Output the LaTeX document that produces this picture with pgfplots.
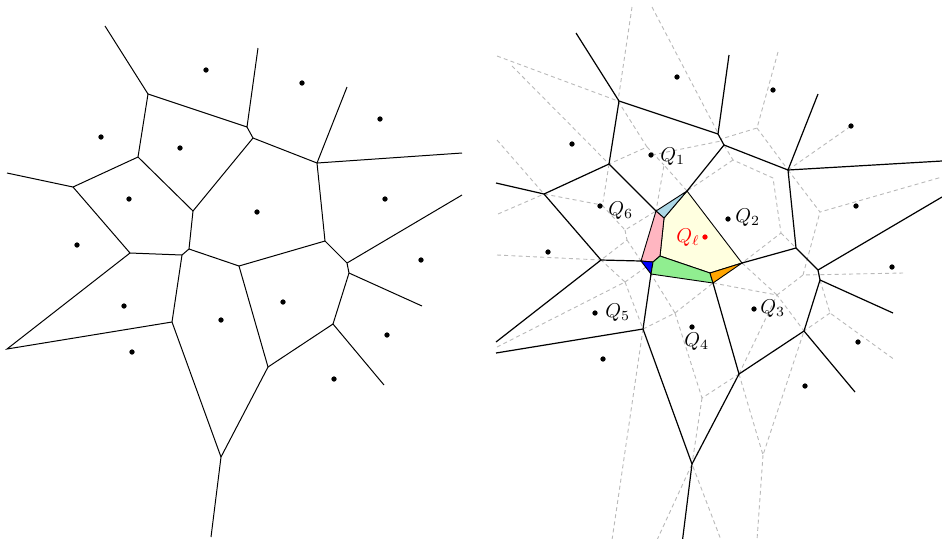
\documentclass[border=0pt]{standalone}
\usepackage{pgfplots}
\pgfplotsset{compat=1.18}
\definecolor{lblue}{HTML}{ADD8E6}
\definecolor{lpink}{HTML}{FFB6C1}
\definecolor{lgreen}{HTML}{90EE90}
\definecolor{lorange}{HTML}{FFA500}
\definecolor{lyellow}{HTML}{FFFFE0}
\pgfplotsset{
  vl/.style={black, line width=0.5pt, mark=none},
  vr/.style={black, line width=0.6pt, mark=none},
  dl/.style={gray!55, line width=0.45pt, dash pattern=on 2pt off 1.6pt, mark=none},
  reg/.style={draw=black, line width=0.45pt, mark=none},
}
\begin{document}
\begin{tikzpicture}
\begin{axis}[
  scale only axis, width=471pt, height=269pt,
  xmin=0, xmax=942, ymin=0, ymax=538, y dir=reverse,
  axis line style={draw=none}, xtick=\empty, ytick=\empty,
  clip=true,
]
% ---------------- left panel: Voronoi edges ----------------
\addplot[vl] coordinates {(105,26) (148,94) (247,127) (258,48)};
\addplot[vl] coordinates {(148,94) (138,157) (73,187) (7,173)};
\addplot[vl] coordinates {(138,157) (193,211) (253,138) (247,127)};
\addplot[vl] coordinates {(253,138) (317,163) (347,87)};
\addplot[vl] coordinates {(317,163) (462,153)};
\addplot[vl] coordinates {(317,163) (325,241) (239,266) (189,249) (193,211)};
\addplot[vl] coordinates {(189,249) (182,255) (130,253) (73,187)};
\addplot[vl] coordinates {(130,253) (7,349) (172,322) (182,255)};
\addplot[vl] coordinates {(172,322) (221,457) (211,537)};
\addplot[vl] coordinates {(221,457) (268,367) (239,266)};
\addplot[vl] coordinates {(268,367) (333,324) (349,273) (347,263) (325,241)};
\addplot[vl] coordinates {(333,324) (384,385)};
\addplot[vl] coordinates {(349,273) (422,306)};
\addplot[vl] coordinates {(347,263) (462,195)};
\addplot[only marks, mark=*, mark size=1.1pt, black] coordinates {
 (206,70) (101,137) (180,148) (129,199) (77,245) (302,83) (380,119) (257,212)
 (385,199) (421,260) (124,306) (221,320) (132,352) (283,302) (387,335) (334,379)};
% ---------------- right panel: dashed diagram ----------------
\addplot[dl] coordinates {(632,7) (618,101)};
\addplot[dl] coordinates {(652,7) (718,133)};
\addplot[dl] coordinates {(497,56) (618,101)};
\addplot[dl] coordinates {(512,66) (609,164)};
\addplot[dl] coordinates {(497,140) (544,194)};
\addplot[dl] coordinates {(498,214) (544,194) (602,205)};
\addplot[dl] coordinates {(609,164) (603,202)};
\addplot[dl] coordinates {(618,101) (647,147) (609,164)};
\addplot[dl] coordinates {(647,147) (664,165)};
\addplot[dl] coordinates {(687,191) (664,165) (656,211)};
\addplot[dl] coordinates {(652,155) (721,141)};
\addplot[dl] coordinates {(602,205) (625,230) (656,211)};
\addplot[dl] coordinates {(625,230) (627,240) (601,260)};
\addplot[dl] coordinates {(627,240) (641,261)};
\addplot[dl] coordinates {(497,255) (601,260)};
\addplot[dl] coordinates {(497,347) (625,282) (601,260)};
\addplot[dl] coordinates {(625,282) (653,262)};
\addplot[dl] coordinates {(625,282) (643,329)};
\addplot[dl] coordinates {(643,329) (675,313) (651,274)};
\addplot[dl] coordinates {(675,313) (713,283)};
\addplot[dl] coordinates {(675,313) (702,398) (739,374)};
\addplot[dl] coordinates {(702,398) (692,464)};
\addplot[dl] coordinates {(643,329) (612,540)};
\addplot[dl] coordinates {(657,540) (692,464) (721,540)};
\addplot[dl] coordinates {(739,374) (763,455) (804,331)};
\addplot[dl] coordinates {(763,455) (757,540)};
\addplot[dl] coordinates {(713,283) (777,295) (803,275) (903,273)};
\addplot[dl] coordinates {(742,263) (777,295)};
\addplot[dl] coordinates {(739,374) (777,295) (804,331)};
\addplot[dl] coordinates {(803,275) (820,212)};
\addplot[dl] coordinates {(820,280) (830,313) (895,360)};
\addplot[dl] coordinates {(830,313) (804,331)};
\addplot[dl] coordinates {(788,170) (820,212) (942,177)};
\addplot[dl] coordinates {(788,170) (851,126)};
\addplot[dl] coordinates {(778,52) (757,128) (721,139)};
\addplot[dl] coordinates {(757,128) (788,170)};
\addplot[dl] coordinates {(724,145) (733,160) (773,178) (781,233) (742,263)};
\addplot[dl] coordinates {(733,160) (687,191)};
\addplot[dl] coordinates {(781,233) (796,248)};
% ---------------- right panel: coloured regions ----------------
\addplot[reg, fill=lyellow] coordinates {(664,218) (687,191) (742,263) (710,273) (660,256)} -- cycle;
\addplot[reg, fill=lblue] coordinates {(656,211) (687,191) (664,218)} -- cycle;
\addplot[reg, fill=lpink] coordinates {(656,211) (664,218) (660,256) (653,262) (641,261)} -- cycle;
\addplot[reg, fill=blue] coordinates {(641,261) (653,262) (651,274)} -- cycle;
\addplot[reg, fill=lgreen] coordinates {(653,262) (660,256) (710,273) (713,283) (651,274)} -- cycle;
\addplot[reg, fill=lorange] coordinates {(710,273) (742,263) (713,283)} -- cycle;
% ---------------- right panel: Voronoi edges ----------------
\addplot[vr] coordinates {(576,33) (619,101) (718,134) (729,55)};
\addplot[vr] coordinates {(619,101) (609,164) (544,194) (496,183)};
\addplot[vr] coordinates {(609,164) (656,211)};
\addplot[vr] coordinates {(687,191) (724,145) (718,134)};
\addplot[vr] coordinates {(724,145) (788,170) (818,94)};
\addplot[vr] coordinates {(788,170) (942,161)};
\addplot[vr] coordinates {(742,263) (796,248) (788,170)};
\addplot[vr] coordinates {(641,261) (601,260) (544,194)};
\addplot[vr] coordinates {(601,260) (496,342)};
\addplot[vr] coordinates {(496,353) (643,329) (651,274)};
\addplot[vr] coordinates {(643,329) (692,464) (682,544)};
\addplot[vr] coordinates {(692,464) (739,374) (713,283)};
\addplot[vr] coordinates {(739,374) (804,331) (820,280) (818,270) (796,248)};
\addplot[vr] coordinates {(804,331) (855,392)};
\addplot[vr] coordinates {(820,280) (893,313)};
\addplot[vr] coordinates {(818,270) (942,197)};
\addplot[only marks, mark=*, mark size=1.1pt, black] coordinates {
 (677,77) (572,144) (651,155) (600,206) (548,252) (773,90) (851,126) (728,219)
 (856,206) (892,267) (595,313) (692,327) (603,359) (754,309) (858,342) (805,386)};
\addplot[only marks, mark=*, mark size=1.1pt, red] coordinates {(705,237)};
\node[anchor=base west, inner sep=0pt] at (axis cs:660,161) {$Q_1$};
\node[anchor=base west, inner sep=0pt] at (axis cs:735,222) {$Q_2$};
\node[anchor=base west, inner sep=0pt] at (axis cs:760,313) {$Q_3$};
\node[anchor=base west, inner sep=0pt] at (axis cs:684,346) {$Q_4$};
\node[anchor=base west, inner sep=0pt] at (axis cs:605,317) {$Q_5$};
\node[anchor=base west, inner sep=0pt] at (axis cs:608,215) {$Q_6$};
\node[anchor=base west, inner sep=0pt, red] at (axis cs:676,242) {$Q_\ell$};
\end{axis}
\end{tikzpicture}
\end{document}
